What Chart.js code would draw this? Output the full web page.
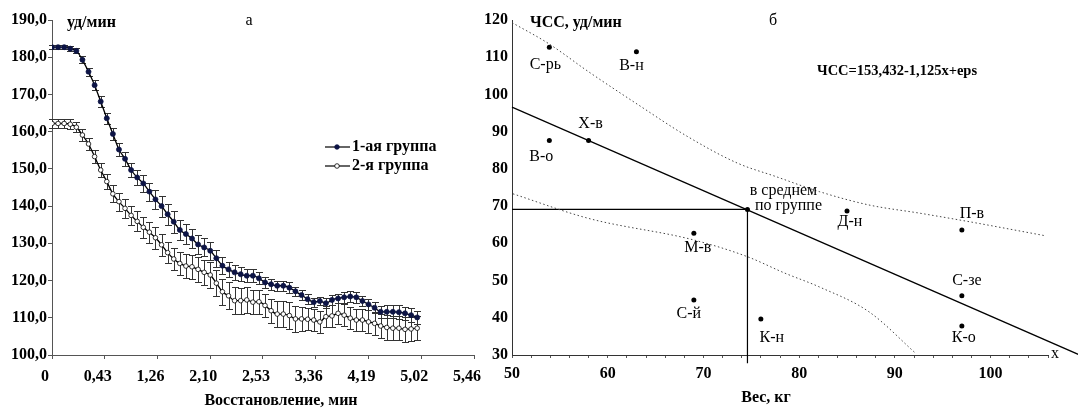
<!DOCTYPE html>
<html>
<head>
<meta charset="utf-8">
<script src="https://cdn.jsdelivr.net/npm/chart.js@4.4.1/dist/chart.umd.min.js"></script>
<style>
  html, body { margin: 0; padding: 0; background: #fff; }
  #wrap { position: relative; width: 1078px; height: 409px; overflow: hidden; }
  canvas { position: absolute; top: 0; }
  #recoveryChart { left: 0; }
  #weightChart { left: 470px; }
</style>
</head>
<body>
<div id="wrap">
  <canvas id="recoveryChart" width="490" height="409"></canvas>
  <canvas id="weightChart" width="608" height="409"></canvas>
</div>
<script>
//-------------------- data: panel "а" (heart rate during recovery) --------------------
const recoverySec = [0, 5, 10, 15, 20, 25, 30, 35, 40, 45, 50, 55, 60, 65, 70, 75, 80, 85, 90, 95,
  100, 105, 110, 115, 120, 125, 130, 135, 140, 145, 150, 155, 160, 165, 170, 175, 180, 185, 190, 195,
  200, 205, 210, 215, 220, 225, 230, 235, 240, 245, 250, 255, 260, 265, 270, 275, 280, 285, 290, 295, 300];

const group1Hr = [182.7, 182.7, 182.7, 182.3, 181.7, 179.3, 176.1, 172.5, 168.1, 163.6,
  159.4, 155.2, 152.7, 149.7, 147.7, 146.1, 143.9, 141.8, 140.0, 137.8,
  135.8, 133.6, 132.5, 131.3, 129.7, 128.9, 128.0, 126.0, 124.0, 123.0,
  122.2, 121.7, 121.3, 121.3, 120.6, 119.5, 119.0, 118.6, 118.6, 118.1,
  117.1, 116.1, 115.0, 114.2, 114.5, 113.9, 114.8, 115.2, 115.5, 115.7,
  115.5, 114.5, 113.6, 112.7, 111.6, 111.6, 111.6, 111.5, 111.2, 110.7, 110.1];
const group1Err = [0.6, 0.6, 0.6, 0.6, 0.7, 0.9, 1.1, 1.3, 1.4, 1.5,
  1.6, 1.7, 1.8, 1.9, 2.0, 2.2, 2.4, 2.6, 2.8, 2.9,
  2.9, 2.8, 2.7, 2.6, 2.5, 2.4, 2.4, 2.3, 2.2, 2.1,
  2.0, 1.9, 1.8, 1.7, 1.6, 1.5, 1.5, 1.4, 1.4, 1.4,
  1.3, 1.3, 1.3, 1.2, 1.2, 1.3, 1.3, 1.3, 1.4, 1.4,
  1.4, 1.4, 1.5, 1.5, 1.6, 1.7, 1.7, 1.8, 1.8, 1.8, 1.8];

const group2Hr = [162.2, 162.2, 162.2, 162.0, 161.2, 159.1, 156.7, 153.3, 149.7, 146.6,
  143.3, 141.2, 139.4, 137.5, 135.9, 134.3, 133.0, 131.5, 129.6, 127.5,
  125.8, 124.6, 123.9, 123.7, 123.0, 122.2, 121.5, 119.3, 117.0, 115.9,
  114.6, 114.6, 114.8, 114.2, 114.3, 113.3, 111.9, 111.0, 111.0, 110.6,
  109.7, 109.7, 109.6, 109.4, 108.9, 110.3, 110.5, 111.2, 110.7, 109.9,
  109.4, 109.4, 108.9, 108.5, 107.8, 107.4, 107.2, 107.2, 106.9, 107.0, 107.2];
const group2Err = [1.3, 1.3, 1.3, 1.3, 1.4, 1.5, 1.6, 1.8, 2.0, 2.1,
  2.3, 2.4, 2.5, 2.6, 2.7, 2.8, 2.8, 2.9, 2.9, 2.9,
  2.9, 3.0, 3.1, 3.2, 3.3, 3.3, 3.4, 3.5, 3.5, 3.6,
  3.6, 3.5, 3.4, 3.3, 3.2, 3.1, 3.2, 3.4, 3.6, 3.7,
  3.4, 3.2, 3.0, 2.9, 2.9, 2.9, 2.9, 2.9, 2.9, 3.0,
  3.0, 3.0, 3.1, 3.1, 3.2, 3.3, 3.3, 3.3, 3.3, 3.3, 3.3];

const groupNames = ['1-ая группа', '2-я группа'];
const timeTickSec = [0, 43.33, 86.67, 130, 173.33, 216.67, 260, 303.33, 346.67];
const timeTickLabels = ['0', '0,43', '1,26', '2,10', '2,53', '3,36', '4,19', '5,02', '5,46'];

//-------------------- data: panel "б" (heart rate vs weight) --------------------
const athleteNames = ['С-рь', 'В-н', 'Х-в', 'В-о', 'М-в', 'С-й', 'К-н', 'Д-н', 'П-в', 'С-зе', 'К-о'];
const athleteWeight = [53.9, 63.0, 58.0, 53.9, 69.0, 69.0, 76.0, 85.0, 97.0, 97.0, 97.0];
const athleteHr = [112.7, 111.5, 87.6, 87.6, 62.7, 44.8, 39.7, 68.7, 63.6, 45.9, 37.8];
const groupMean = [74.6, 69.1];
const regressionEnds = [[50, 96.6], [109.4, 29.9]];
const upperBand = [[50.0, 119.3], [53.8, 113.7], [58.0, 106.1], [63.2, 97.2], [68.4, 88.6], [73.6, 81.5],
  [77.5, 78.0], [82.1, 73.9], [87.3, 70.3], [92.6, 68.1], [97.8, 65.8], [105.8, 62.0]];
const lowerBand = [[50.1, 73.3], [58.0, 66.7], [69.0, 60.9], [74.6, 56.4], [78.5, 52.0], [82.1, 48.3],
  [87.3, 41.6], [92.2, 30.4]];
const equationText = 'ЧСС=153,432-1,125x+eps';

//-------------------- shared helpers --------------------
const SERIF = '"Liberation Serif", "DejaVu Serif", serif';
const toXY = pairs => pairs.map(p => ({ x: p[0], y: p[1] }));

function drawText(ctx, text, x, y, opts) {
  ctx.save();
  ctx.font = (opts.bold ? 'bold ' : '') + (opts.size || 16) + 'px ' + SERIF;
  ctx.fillStyle = '#000';
  ctx.textAlign = opts.align || 'left';
  ctx.textBaseline = 'middle';
  ctx.fillText(text, x, y);
  ctx.restore();
}

const errorBars = {
  id: 'errorBars',
  beforeDatasetsDraw(chart) {
    const ctx = chart.ctx, xs = chart.scales.x, ys = chart.scales.y;
    ctx.save();
    ctx.strokeStyle = '#333';
    ctx.lineWidth = 1;
    chart.data.datasets.forEach(ds => {
      if (!ds.errors) return;
      ds.data.forEach((p, i) => {
        const px = Math.round(xs.getPixelForValue(p.x)) + 0.5;
        const top = Math.round(ys.getPixelForValue(p.y + ds.errors[i])) + 0.5;
        const bot = Math.round(ys.getPixelForValue(p.y - ds.errors[i])) + 0.5;
        ctx.beginPath();
        ctx.moveTo(px, top); ctx.lineTo(px, bot);
        ctx.moveTo(px - 3.5, top); ctx.lineTo(px + 3.5, top);
        ctx.moveTo(px - 3.5, bot); ctx.lineTo(px + 3.5, bot);
        ctx.stroke();
      });
    });
    ctx.restore();
  }
};

const recoveryNotes = {
  id: 'recoveryNotes',
  afterDatasetsDraw(chart) {
    const ctx = chart.ctx;
    drawText(ctx, 'уд/мин', 67, 23, { bold: true });
    drawText(ctx, 'а', 249, 21, { align: 'center' });
    drawText(ctx, 'Восстановление, мин', 281, 401, { bold: true, align: 'center' });
    // legend
    chart.data.datasets.forEach((ds, i) => {
      const y = 147 + i * 19;
      ctx.save();
      ctx.strokeStyle = '#000';
      ctx.lineWidth = 1.2;
      ctx.beginPath(); ctx.moveTo(325, y); ctx.lineTo(350, y); ctx.stroke();
      ctx.beginPath(); ctx.arc(337, y, 2.3, 0, Math.PI * 2);
      ctx.fillStyle = ds.pointBackgroundColor; ctx.fill();
      ctx.lineWidth = 0.8; ctx.strokeStyle = ds.pointBorderColor; ctx.stroke();
      ctx.restore();
      drawText(ctx, ds.label, 352, y, { bold: true });
    });
  }
};

//-------------------- chart "а" --------------------
new Chart(document.getElementById('recoveryChart').getContext('2d'), {
  type: 'line',
  data: {
    datasets: [
      {
        label: groupNames[0],
        data: recoverySec.map((t, i) => ({ x: t, y: group1Hr[i] })),
        errors: group1Err,
        borderColor: '#000',
        borderWidth: 1.3,
        pointRadius: 2.5,
        pointBackgroundColor: '#0d1445',
        pointBorderColor: '#0d1445',
        pointBorderWidth: 0.8,
        cubicInterpolationMode: 'monotone'
      },
      {
        label: groupNames[1],
        data: recoverySec.map((t, i) => ({ x: t, y: group2Hr[i] })),
        errors: group2Err,
        borderColor: '#000',
        borderWidth: 1.3,
        pointRadius: 2.3,
        pointBackgroundColor: '#fff',
        pointBorderColor: '#000',
        pointBorderWidth: 0.8,
        cubicInterpolationMode: 'monotone'
      }
    ]
  },
  options: {
    responsive: false,
    animation: false,
    layout: { padding: { top: 20, right: 16, left: 0, bottom: 0 } },
    plugins: { legend: { display: false }, tooltip: { enabled: false } },
    scales: {
      x: {
        type: 'linear',
        min: 0,
        max: 346.67,
        afterBuildTicks: s => { s.ticks = timeTickSec.map(v => ({ value: v })); },
        afterFit: s => { s.height = 54; s.paddingLeft = 0; s.paddingRight = 0; },
        border: { color: '#555', width: 1 },
        grid: { drawOnChartArea: false, tickLength: 4, color: '#555' },
        ticks: {
          callback: (v, i) => timeTickLabels[i],
          labelOffset: -7,
          padding: 8,
          maxRotation: 0,
          autoSkip: false,
          color: '#000',
          font: { family: SERIF, size: 16, weight: 'bold' }
        }
      },
      y: {
        min: 100,
        max: 190,
        afterFit: s => { s.width = 52; },
        border: { color: '#555', width: 1 },
        grid: { drawOnChartArea: false, tickLength: 4, color: '#555' },
        ticks: {
          stepSize: 10,
          padding: 1,
          callback: v => v.toFixed(1).replace('.', ','),
          color: '#000',
          font: { family: SERIF, size: 16, weight: 'bold' }
        }
      }
    }
  },
  plugins: [errorBars, recoveryNotes]
});

//-------------------- chart "б" --------------------
const labelShift = [[-4, 18], [-5, 14], [2, -17], [-8, 16], [4, 15], [-5, 14], [11, 19], [3, 11], [10, -16], [5, -15], [2, 12]];

const weightNotes = {
  id: 'weightNotes',
  afterDatasetsDraw(chart) {
    const ctx = chart.ctx, xs = chart.scales.x, ys = chart.scales.y;
    const ox = 470;
    drawText(ctx, 'ЧСС, уд/мин', 530 - ox, 23, { bold: true });
    drawText(ctx, 'б', 773 - ox, 21, { align: 'center' });
    drawText(ctx, equationText, 817 - ox, 71, { bold: true, size: 14.5 });
    drawText(ctx, 'x', 1055 - ox, 354, { align: 'center' });
    drawText(ctx, 'Вес, кг', 766 - ox, 398, { bold: true, align: 'center' });
    athleteNames.forEach((name, i) => {
      const px = xs.getPixelForValue(athleteWeight[i]) + labelShift[i][0];
      const py = ys.getPixelForValue(athleteHr[i]) + labelShift[i][1];
      drawText(ctx, name, px, py, { align: 'center' });
    });
    const mx = xs.getPixelForValue(groupMean[0]), my = ys.getPixelForValue(groupMean[1]);
    drawText(ctx, 'в среднем', mx + 36, my - 19, { align: 'center' });
    drawText(ctx, 'по группе', mx + 41, my - 4, { align: 'center' });
  }
};

new Chart(document.getElementById('weightChart').getContext('2d'), {
  type: 'scatter',
  data: {
    datasets: [
      {
        data: toXY(upperBand),
        showLine: true,
        borderColor: '#444',
        borderWidth: 1,
        borderDash: [1.5, 2.5],
        pointRadius: 0,
        cubicInterpolationMode: 'monotone'
      },
      {
        data: toXY(lowerBand),
        showLine: true,
        borderColor: '#444',
        borderWidth: 1,
        borderDash: [1.5, 2.5],
        pointRadius: 0,
        cubicInterpolationMode: 'monotone'
      },
      {
        data: toXY(regressionEnds),
        showLine: true,
        borderColor: '#000',
        borderWidth: 1.2,
        pointRadius: 0,
        clip: false
      },
      {
        data: [{ x: 50, y: groupMean[1] }, { x: groupMean[0], y: groupMean[1] }, { x: groupMean[0], y: 27.8 }],
        showLine: true,
        borderColor: '#000',
        borderWidth: 1.2,
        pointRadius: 0,
        tension: 0,
        clip: false
      },
      {
        data: athleteWeight.map((w, i) => ({ x: w, y: athleteHr[i] })).concat([{ x: groupMean[0], y: groupMean[1] }]),
        pointRadius: 2.5,
        pointBackgroundColor: '#000',
        pointBorderColor: '#000',
        pointBorderWidth: 0
      }
    ]
  },
  options: {
    responsive: false,
    animation: false,
    layout: { padding: { top: 20, right: 30, left: 0, bottom: 0 } },
    plugins: { legend: { display: false }, tooltip: { enabled: false } },
    scales: {
      x: {
        min: 50,
        max: 106,
        afterFit: s => { s.height = 54; s.paddingLeft = 0; s.paddingRight = 0; },
        border: { color: '#333', width: 1 },
        grid: { drawOnChartArea: false, tickLength: 3, color: '#555' },
        ticks: {
          stepSize: 2,
          autoSkip: false,
          maxRotation: 0,
          padding: 6,
          callback: v => (v % 10 === 0 ? String(v) : ''),
          color: '#000',
          font: { family: SERIF, size: 16, weight: 'bold' }
        }
      },
      y: {
        min: 30,
        max: 120,
        afterFit: s => { s.width = 42; },
        border: { color: '#333', width: 1 },
        grid: { drawOnChartArea: false, drawTicks: false },
        ticks: {
          stepSize: 10,
          padding: 4,
          color: '#000',
          font: { family: SERIF, size: 16, weight: 'bold' }
        }
      }
    }
  },
  plugins: [weightNotes]
});
</script>
</body>
</html>
